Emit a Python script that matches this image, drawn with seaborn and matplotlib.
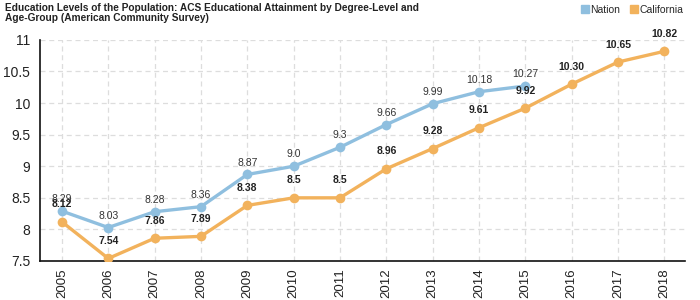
import matplotlib
matplotlib.use("Agg")
import matplotlib.pyplot as plt
import seaborn as sns
import pandas as pd
import numpy as np
from matplotlib.ticker import MultipleLocator
from matplotlib.lines import Line2D

years = ["2005", "2006", "2007", "2008", "2009", "2010", "2011", "2012",
         "2013", "2014", "2015", "2016", "2017", "2018"]
nation = [8.29, 8.03, 8.28, 8.36, 8.87, 9.0, 9.3, 9.66, 9.99, 10.18, 10.27]
nation_labels = ["8.29", "8.03", "8.28", "8.36", "8.87", "9.0", "9.3", "9.66",
                 "9.99", "10.18", "10.27"]
california = [8.12, 7.54, 7.86, 7.89, 8.38, 8.5, 8.5, 8.96, 9.28, 9.61, 9.92,
              10.30, 10.65, 10.82]
california_labels = ["8.12", "7.54", "7.86", "7.89", "8.38", "8.5", "8.5", "8.96",
                     "9.28", "9.61", "9.92", "10.30", "10.65", "10.82"]

c_nation = "#8fbfdf"
c_cal = "#f2b25c"

sns.set_style("white")
plt.rcParams["font.family"] = ["Liberation Sans", "DejaVu Sans"]

df_n = pd.DataFrame({"x": np.arange(len(nation)), "y": nation})
df_c = pd.DataFrame({"x": np.arange(len(california)), "y": california})

fig = plt.figure(figsize=(7, 3), dpi=100)
ax = fig.add_axes([0.057, 0.13, 0.922, 0.737])

sns.lineplot(data=df_n, x="x", y="y", ax=ax, color=c_nation, lw=2.4,
             marker="o", markersize=7, markeredgewidth=0, zorder=3)
sns.lineplot(data=df_c, x="x", y="y", ax=ax, color=c_cal, lw=2.4,
             marker="o", markersize=7, markeredgewidth=0, zorder=3)

for i, (v, s) in enumerate(zip(nation, nation_labels)):
    ax.annotate(s, (i, v), xytext=(0, 5), textcoords="offset points",
                ha="center", va="bottom", fontsize=7.5, color="#333333", zorder=5)
for i, (v, s) in enumerate(zip(california, california_labels)):
    ax.annotate(s, (i, v), xytext=(0, 9), textcoords="offset points",
                ha="center", va="bottom", fontsize=7.5, color="#222222",
                fontweight="bold", zorder=5)

ax.set_xlim(-0.475, len(years) - 1 + 0.45)
ax.set_ylim(7.5, 11)
ax.set_xticks(np.arange(len(years)))
ax.set_xticklabels(years, rotation=90, fontsize=9.5, color="#222222")
ax.yaxis.set_minor_locator(MultipleLocator(0.25))
ax.set_yticks([7.5, 8, 8.5, 9, 9.5, 10, 10.5, 11])
ax.set_yticklabels(["7.5", "8", "8.5", "9", "9.5", "10", "10.5", "11"],
                   fontsize=10, color="#222222")
ax.tick_params(axis="y", which="major", length=4, width=1, color="#555555", pad=3)
ax.tick_params(axis="y", which="minor", length=3, width=1, color="#e03030")
ax.tick_params(axis="x", which="major", length=4, width=1, color="#555555", pad=1.5)
ax.set_xlabel("")
ax.set_ylabel("")

ax.grid(True, which="major", axis="both", color="#dddddd", ls=(0, (4, 3)), lw=0.9)
ax.set_axisbelow(True)
for side in ["top", "right"]:
    ax.spines[side].set_visible(False)
for side in ["left", "bottom"]:
    ax.spines[side].set_color("#111111")
    ax.spines[side].set_linewidth(1.2)

fig.text(0.007, 0.99, "Education Levels of the Population: ACS Educational Attainment by Degree-Level and\nAge-Group (American Community Survey)",
         ha="left", va="top", fontsize=7.3, fontweight="bold", color="#222222",
         linespacing=0.95)

handles = [Line2D([], [], marker="s", ls="", color=c_nation, markersize=5.5),
           Line2D([], [], marker="s", ls="", color=c_cal, markersize=5.5)]
fig.legend(handles, ["Nation", "California"], loc="upper right",
           bbox_to_anchor=(0.99, 1.015), ncol=2, frameon=False, fontsize=7.5,
           handletextpad=0.05, columnspacing=0.8, handlelength=1.0)

fig.savefig("out.png", dpi=100)
